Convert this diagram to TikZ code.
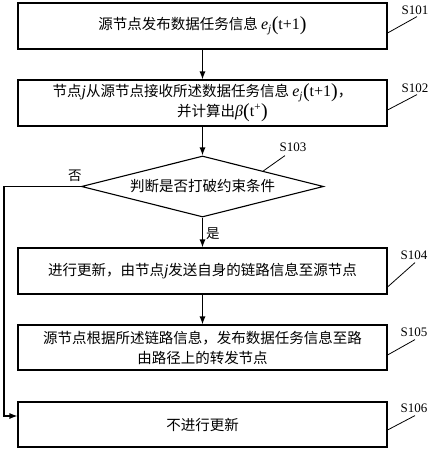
\documentclass[tikz,border=0pt]{standalone}
\usepackage{fontspec}
\setmainfont{Liberation Serif}
\newfontfamily\cjk{Noto Sans CJK SC}
\usetikzlibrary{shapes.geometric,arrows.meta,calc}
\newcommand\lt[1]{{\rmfamily\fontsize{16}{16}\selectfont #1}}
\newcommand\lit[1]{{\rmfamily\itshape\fontsize{16}{16}\selectfont #1}}
\newcommand\bp[1]{{\rmfamily\fontsize{20}{20}\selectfont\raisebox{-1pt}{#1}}}
\newcommand\ej{\lit{e\textsubscript{j}}}
\begin{document}
\begin{tikzpicture}[x=1pt,y=-1pt,
  box/.style={draw, line width=1.1pt, minimum width=369pt, minimum height=46pt, inner sep=0pt,
    font=\cjk\fontsize{14.5}{20}\selectfont, align=center},
  decision/.style={draw, line width=1.1pt, shape=diamond, aspect=3.97, minimum width=242pt, minimum height=61pt,
    inner sep=0pt, font=\cjk\fontsize{14.5}{20}\selectfont},
  steplabel/.style={font=\fontsize{13}{15}\selectfont, inner sep=0pt},
  leader/.style={line width=0.8pt},
  arr/.style={line width=1.1pt, -{Latex[length=8pt,width=6pt]}},
  branch/.style={font=\cjk\fontsize{13.5}{15}\selectfont, inner sep=0pt}]
\useasboundingbox (0,0) rectangle (433,450);
\fill[white] (0,0) rectangle (433,450);

\node[box] (s101) at (202.5,26) {源节点发布数据任务信息 \ej\bp{(}\lt{t+1}\bp{)}};
\node[box] (s102) at (202.5,103) {节点\lit{j}从源节点接收所述数据任务信息 \ej\bp{(}\lt{t+1}\bp{)}，\\[0pt]\hspace*{40pt}并计算出\lit{β}\bp{(}\lt{t\textsuperscript{+}}\bp{)}};
\node[decision] (dia) at (202.5,186.5) {判断是否打破约束条件};
\node[box] (s104) at (202.5,271) {进行更新，由节点\lit{j}发送自身的链路信息至源节点};
\node[box, minimum height=45pt] (s105) at (202.5,347.5) {源节点根据所述链路信息，发布数据任务信息至路\\由路径上的转发节点};
\node[box, minimum height=45pt] (s106) at (202.5,424.5) {不进行更新};

\node[steplabel] (l101) at (415,10) {S101};
\node[steplabel] (l102) at (415,88) {S102};
\node[steplabel] (l103) at (293,147) {S103};
\node[steplabel] (l104) at (414,255) {S104};
\node[steplabel] (l105) at (414,332) {S105};
\node[steplabel] (l106) at (414,408) {S106};

\draw[leader] ([yshift=-7pt]s101.east) -- ([xshift=2pt,yshift=-2pt]l101.south);
\draw[leader] ([yshift=-7pt]s102.east) -- ([xshift=2pt,yshift=-2pt]l102.south);
\draw[leader] ($(dia.north)!0.5!(dia.east)$) -- ([xshift=-8pt,yshift=-4pt]l103.south);
\draw[leader] ([yshift=-16pt]s104.east) -- ([xshift=1pt,yshift=-3pt]l104.south);
\draw[leader] ([yshift=-7.5pt]s105.east) -- ([xshift=1pt,yshift=-3pt]l105.south);
\draw[leader] ([yshift=-5.5pt]s106.east) -- ([xshift=1pt,yshift=-3pt]l106.south);

\draw[arr] (s101) -- (s102);
\draw[arr] (s102) -- (dia);
\draw[arr] (dia) -- node[branch, right=3pt, pos=0.55] (yes) {是} (s104);
\draw[arr] (s104) -- (s105);
\draw[arr] (dia.west) -- node[branch, above=4pt, pos=0.08] (no) {否} ++(-77,0) |- ([yshift=8.5pt]s106.west);
\end{tikzpicture}
\end{document}
